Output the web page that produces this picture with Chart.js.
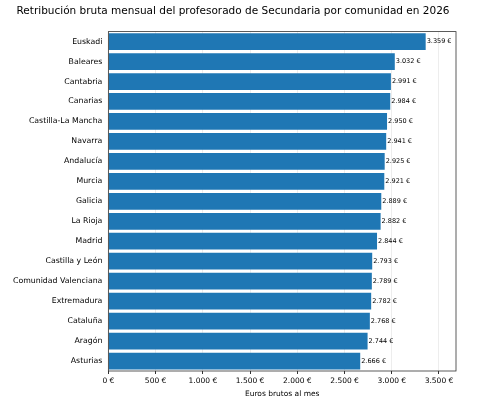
<!DOCTYPE html>
<html><head><meta charset="utf-8">
<script src="https://cdn.jsdelivr.net/npm/chart.js@4"></script>
<style>html,body{margin:0;padding:0;background:#fff}#w{width:500px;height:411px}</style>
</head><body><div id="w"><canvas id="c"></canvas></div>
<script>
const categories=["Euskadi","Baleares","Cantabria","Canarias","Castilla-La Mancha","Navarra","Andalucía","Murcia","Galicia","La Rioja","Madrid","Castilla y León","Comunidad Valenciana","Extremadura","Cataluña","Aragón","Asturias"];
const values=[3359,3032,2991,2984,2950,2941,2925,2921,2889,2882,2844,2793,2789,2782,2768,2744,2666];
const xTicks=[0,500,1000,1500,2000,2500,3000,3500];
const fmt=v=>v.toLocaleString('de-DE')+' €';
const labelsPlugin={id:'vl',afterDatasetsDraw(ch){const{ctx}=ch;const m=ch.getDatasetMeta(0);ctx.save();ctx.font='6.5px DejaVu Sans';ctx.fillStyle='#000';ctx.textBaseline='middle';m.data.forEach((b,i)=>{ctx.fillText(fmt(values[i]),b.x+1,b.y);});ctx.restore();}};
const framePlugin={id:'fr',afterDraw(ch){const a=ch.chartArea,ctx=ch.ctx;ctx.save();ctx.strokeStyle='#333';ctx.lineWidth=0.8;ctx.strokeRect(a.left,a.top,a.right-a.left,a.bottom-a.top);ctx.restore();}};
new Chart(document.getElementById('c'),{type:'bar',
data:{labels:categories,datasets:[{data:values,backgroundColor:'#1f77b4',barPercentage:0.84,categoryPercentage:1}]},
options:{indexAxis:'y',responsive:true,maintainAspectRatio:false,animation:false,
layout:{padding:{left:10,right:44,top:0,bottom:8}},
plugins:{legend:{display:false},tooltip:{enabled:false},title:{display:true,text:'Retribución bruta mensual del profesorado de Secundaria por comunidad en 2026',color:'#000',font:{family:'DejaVu Sans',size:10.5,weight:'normal'},padding:{top:5,bottom:14}}},
scales:{x:{min:0,max:3680,afterBuildTicks(ax){ax.ticks=xTicks.map(v=>({value:v}));},
ticks:{callback:v=>fmt(v),color:'#000',font:{family:'DejaVu Sans',size:7.5},maxRotation:0,padding:3},
grid:{color:'rgba(0,0,0,0.07)',drawTicks:true,tickLength:3,tickColor:'#333'},border:{display:false},
title:{display:true,text:'Euros brutos al mes',color:'#000',font:{family:'DejaVu Sans',size:7.5},padding:{top:1}}},
y:{offset:true,ticks:{color:'#000',font:{family:'DejaVu Sans',size:7.8},padding:3},grid:{display:false,drawTicks:true,tickLength:3},border:{display:false}}}},
plugins:[labelsPlugin,framePlugin]});
</script></body></html>
